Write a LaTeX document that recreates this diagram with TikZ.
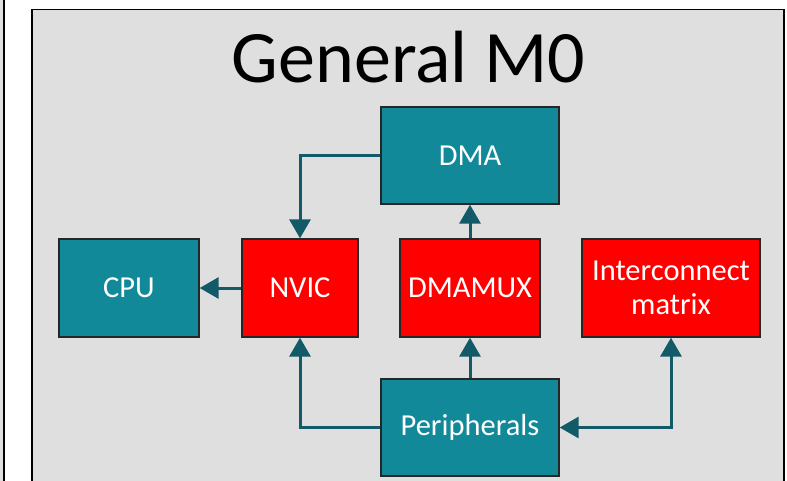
\documentclass[tikz,border=0pt]{standalone}
\usepackage{fontspec}
\setmainfont{Carlito}
\usetikzlibrary{arrows.meta}
\definecolor{teal1}{RGB}{17,137,153}
\definecolor{arrowc}{RGB}{19,90,105}
\definecolor{bgg}{RGB}{223,223,223}
\definecolor{red1}{RGB}{255,0,0}
\begin{document}
\begin{tikzpicture}[x=1pt,y=-1pt,
  blk/.style={draw=black!85,line width=1.3pt,text=white,font=\fontsize{30.5}{34}\selectfont,align=center,inner sep=0pt},
  tealbox/.style={blk,fill=teal1},
  redbox/.style={blk,fill=red1},
  conn/.style={draw=arrowc,line width=3pt,-{Triangle[width=21pt,length=19pt]}}]
\useasboundingbox (0,0) rectangle (787,480);
\begin{scope}
\clip (0,0) rectangle (787,480);
\draw[fill=bgg,line width=1.3pt] (-20,-20) rectangle (4,500);
\draw[fill=bgg,line width=1.3pt] (32,9.5) rectangle (784,500);
\end{scope}
\node[anchor=base,font=\fontsize{74}{78}\selectfont] (title) at (408.5,82) {General M0};
\node[tealbox,minimum width=178pt,minimum height=97pt] (dma) at (470,155.5) {DMA};
\node[tealbox,minimum width=140pt,minimum height=98pt] (cpu) at (129,288) {CPU};
\node[redbox,minimum width=116pt,minimum height=98pt] (nvic) at (300,288) {NVIC};
\node[redbox,minimum width=140pt,minimum height=98pt] (dmamux) at (470,288) {DMAMUX};
\node[redbox,minimum width=178pt,minimum height=98pt] (ic) at (671,288) {Interconnect\\matrix};
\node[tealbox,minimum width=178pt,minimum height=97pt] (per) at (470,427.5) {Peripherals};
\draw[conn] (dma.west) -| (nvic.north);
\draw[conn] (nvic.west) -- (cpu.east);
\draw[conn] (dmamux.north) -- (dma.south);
\draw[conn] (per.west) -| (nvic.south);
\draw[conn] (per.north) -- (dmamux.south);
\draw[conn,{Triangle[width=21pt,length=19pt]}-{Triangle[width=21pt,length=19pt]}] (per.east) -| (ic.south);
\end{tikzpicture}
\end{document}
